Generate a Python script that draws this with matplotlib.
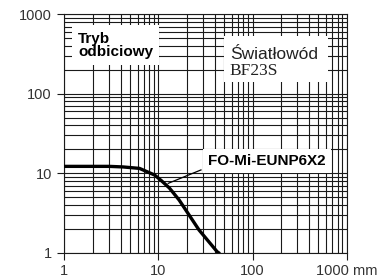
import matplotlib
matplotlib.use("Agg")
import matplotlib.pyplot as plt
from matplotlib.patches import Rectangle
from matplotlib.ticker import LogLocator, FixedLocator, NullFormatter

# data
dist_mm = [1, 2, 3, 4.2, 6.3, 9.1, 10.7, 13.1, 16.6, 27, 42, 43.5]
excess_gain = [12.2, 12.2, 12.2, 12.0, 11.5, 9.5, 8.1, 6.5, 4.6, 1.93, 1.03, 1.0]
x_ticks = [1, 10, 100, 1000]
x_labels = ["1", "10", "100", "1000 mm"]
y_ticks = [1, 10, 100, 1000]
y_labels = ["1", "10", "100", "1000"]
leader_x = [12.7, 28.3]
leader_y = [7.46, 11.0]

plt.rcParams['font.family'] = ['Liberation Sans', 'DejaVu Sans']

fig = plt.figure(figsize=(3.88, 2.78), dpi=100)
ax = fig.add_axes([0.1657, 0.091, 0.8936 - 0.1657, 0.9486 - 0.091])
ax.set_xscale('log')
ax.set_yscale('log')
ax.set_xlim(1, 1000)
ax.set_ylim(1, 1000)

grid_c = '#1a1a1a'
ax.xaxis.set_major_locator(FixedLocator(x_ticks))
ax.yaxis.set_major_locator(FixedLocator(y_ticks))
ax.set_xticklabels(x_labels)
ax.set_yticklabels(y_labels)
ax.xaxis.set_minor_locator(LogLocator(base=10, subs=range(2, 10)))
ax.yaxis.set_minor_locator(LogLocator(base=10, subs=range(2, 10)))
ax.xaxis.set_minor_formatter(NullFormatter())
ax.yaxis.set_minor_formatter(NullFormatter())
ax.grid(True, which='both', color=grid_c, linewidth=0.8)
ax.tick_params(which='minor', length=0)
ax.tick_params(which='major', length=5, width=0.8, color=grid_c,
               labelsize=10.5, labelcolor='#333333', pad=4)
ax.tick_params(axis='x', pad=3)
for s in ax.spines.values():
    s.set_color(grid_c)
    s.set_linewidth(0.8)
ax.set_axisbelow(True)

ax.plot(dist_mm, excess_gain, color='black', linewidth=2.4, zorder=5,
        solid_joinstyle='round')
ax.plot(leader_x, leader_y, color='black', linewidth=0.9, zorder=5)

ax.text(142, 14.2, "FO-Mi-EUNP6X2", fontsize=11, fontweight='bold',
        ha='center', va='center', zorder=6,
        bbox=dict(facecolor='white', edgecolor='none', pad=3.5))

ax.text(1.40, 405, "Tryb\nodbiciowy", fontsize=11, fontweight='bold',
        ha='left', va='center', linespacing=0.95, zorder=6,
        bbox=dict(facecolor='white', edgecolor='none', pad=4.5))

# white backing box for the fibre label
ax.add_patch(Rectangle((0.5655, 0.716), 0.3683, 0.193, transform=ax.transAxes,
                       facecolor='white', edgecolor='none', zorder=4))
ax.text(57.4, 271, "Światłowód", fontsize=12.5, ha='left', va='baseline',
        color='#222222', zorder=7)
ax.text(57.4, 172, "BF23S", fontsize=12.5, ha='left', va='baseline',
        color='#222222', family=['Liberation Serif', 'DejaVu Serif'], zorder=7)

fig.savefig("out.png", dpi=100)
